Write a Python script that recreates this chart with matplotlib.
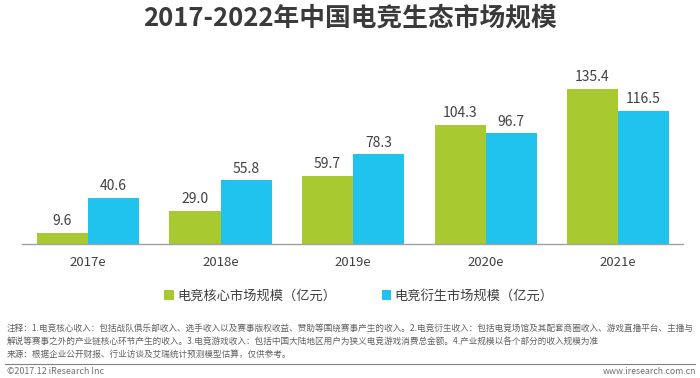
import matplotlib
matplotlib.use('Agg')
import matplotlib.pyplot as plt
import numpy as np

plt.rcParams['font.family'] = ['Noto Sans CJK SC', 'DejaVu Sans']

years = ['2017e', '2018e', '2019e', '2020e', '2021e']
core = [9.6, 29.0, 59.7, 104.3, 135.4]
derived = [40.6, 55.8, 78.3, 96.7, 116.5]
core_label = '电竞核心市场规模（亿元）'
derived_label = '电竞衍生市场规模（亿元）'

green = '#A8C930'
blue = '#1FC3EE'
txt = '#404040'

fig = plt.figure(figsize=(7, 3.78), dpi=100)
ax = fig.add_axes([22 / 700, 134 / 378, 661 / 700, 171.7 / 378])

x = np.arange(len(years))
w = 0.385
ax.bar(x - w / 2, core, w, color=green, label=core_label)
ax.bar(x + w / 2, derived, w, color=blue, label=derived_label)
for i in range(len(years)):
    ax.text(x[i] - w / 2, core[i] + 4, f'{core[i]:.1f}', ha='center', va='bottom', fontsize=10, color=txt)
    ax.text(x[i] + w / 2, derived[i] + 4, f'{derived[i]:.1f}', ha='center', va='bottom', fontsize=10, color=txt)

ax.set_xlim(-0.498, 4.49)
ax.set_ylim(0, 150)
ax.set_yticks([])
ax.set_xticks(x)
ax.set_xticklabels(years, fontsize=9.5, color=txt)
ax.tick_params(axis='x', length=0, pad=9)
for s in ['top', 'right', 'left']:
    ax.spines[s].set_visible(False)
ax.spines['bottom'].set_color('#A0A0A0')
ax.spines['bottom'].set_linewidth(1)

fig.text(0.5, 1 - 18 / 378, '2017-2022年中国电竞生态市场规模', ha='center', va='center',
         fontsize=18.5, fontweight='bold', color='#3A3A3A')

leg = fig.legend(loc='center', bbox_to_anchor=(0.513, 1 - 296 / 378), ncol=2, frameon=False,
                 fontsize=9.5, handlelength=0.7, handleheight=0.7, handletextpad=0.3,
                 columnspacing=3.4)
for t in leg.get_texts():
    t.set_color(txt)

notes = [
    '注释：1.电竞核心收入：包括战队俱乐部收入、选手收入以及赛事版权收益、赞助等围绕赛事产生的收入。2.电竞衍生收入：包括电竞场馆及其配套商圈收入、游戏直播平台、主播与',
    '解说等赛事之外的产业链核心环节产生的收入。3.电竞游戏收入：包括中国大陆地区用户为狭义电竞游戏消费总金额。4.产业规模以各个部分的收入规模为准',
    '来源：根据企业公开财报、行业访谈及艾瑞统计预测模型估算，仅供参考。',
]
for k, line in enumerate(notes):
    fig.text(7 / 700, 1 - (328 + 13 * k) / 378, line, ha='left', va='center', fontsize=6.2, color='#606060')

fig.add_artist(plt.Line2D([5 / 700, 695 / 700], [1 - 364 / 378, 1 - 364 / 378], color='#808080', lw=0.8))
fig.text(7 / 700, 1 - 372 / 378, '©2017.12 iResearch Inc', ha='left', va='center', fontsize=6.4, color='#707070')
fig.text(696 / 700, 1 - 372 / 378, 'www.iresearch.com.cn', ha='right', va='center', fontsize=6.3, color='#707070')

fig.savefig('out.png', dpi=100, facecolor='white')
